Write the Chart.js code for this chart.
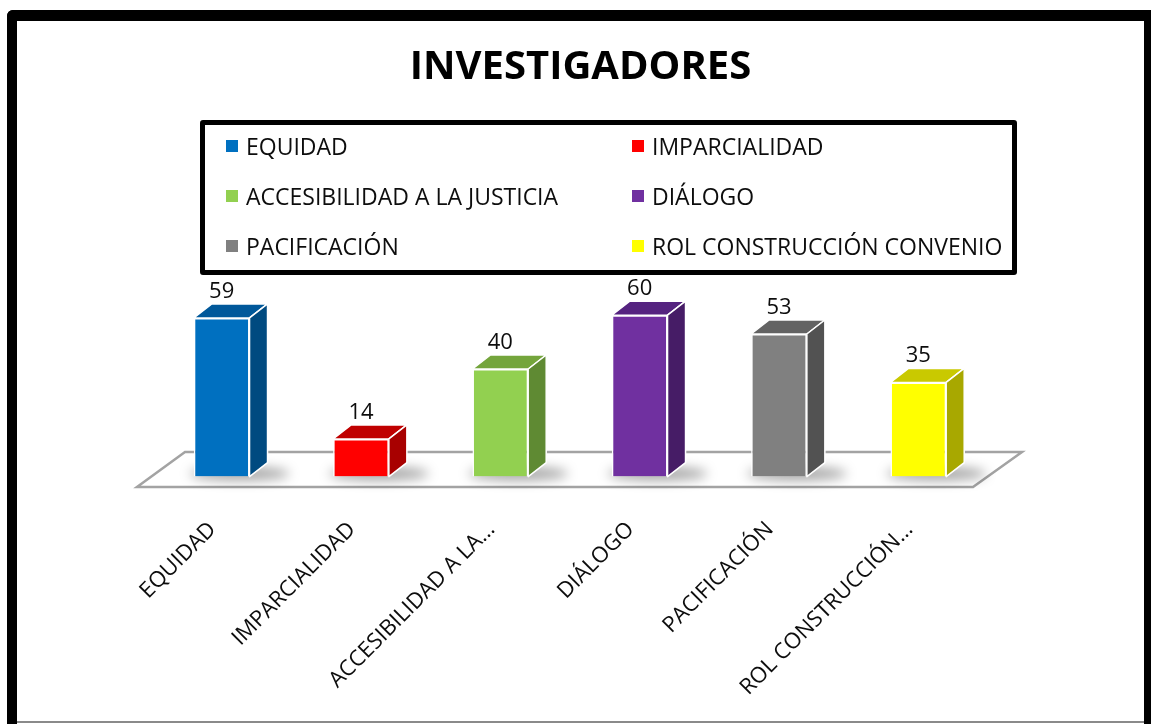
<!DOCTYPE html>
<html>
<head>
<meta charset="utf-8">
<script src="https://cdn.jsdelivr.net/npm/chart.js@4.4.1/dist/chart.umd.min.js"></script>
<style>
  body { margin: 0; background: #fff; font-family: "Open Sans", sans-serif; }
  #frame { position: absolute; left: 7px; top: 10px; width: 1144px; height: 720px; box-sizing: border-box;
           border: solid #000; border-width: 11px 7px 0 10px; border-top-left-radius: 6px; }
  #bottomline { position: absolute; left: 17px; top: 721px; width: 1127px; height: 2px; background: #8a8a8a; }
  #chart { position: absolute; left: 0; top: 0; }
  #legendbox { position: absolute; left: 200px; top: 120px; width: 817px; height: 155px; box-sizing: border-box;
               border: 5px solid #000; border-radius: 3px; }
  .item { position: absolute; height: 30px; display: flex; align-items: center; font-size: 23px; color: #0d0d0d; white-space: nowrap; }
  .item i { display: inline-block; width: 12px; height: 12px; margin-right: 8px; }
</style>
</head>
<body>
<div id="frame"></div>
<div id="bottomline"></div>
<canvas id="chart" width="1151" height="724"></canvas>
<div id="legendbox"></div>

<script>
// data
var categories = ['EQUIDAD', 'IMPARCIALIDAD', 'ACCESIBILIDAD A LA JUSTICIA', 'DIÁLOGO', 'PACIFICACIÓN', 'ROL CONSTRUCCIÓN CONVENIO'];
var values = [59, 14, 40, 60, 53, 35];
var frontColors = ['#0070C0', '#FF0000', '#92D050', '#7030A0', '#808080', '#FFFF00'];
var topColors = ['#00589A', '#C00000', '#74A53C', '#552380', '#636363', '#C9C900'];
var sideColors = ['#004A80', '#A80000', '#5F8A33', '#461C66', '#525252', '#A8A800'];

// layout
var zeroY = 476.6, pxPerUnit = 2.69, yMax = 70;
var areaTop = zeroY - yMax * pxPerUnit;
var dx = 18, dy = -14;

// legend (two columns, three rows)
var legendCols = [226, 632], legendRows = [146, 196, 246];
categories.forEach(function (c, i) {
    var d = document.createElement('div');
    d.className = 'item';
    d.style.left = legendCols[i % 2] + 'px';
    d.style.top = (legendRows[Math.floor(i / 2)] - 15) + 'px';
    d.innerHTML = '<i style="background:' + frontColors[i] + '"></i>' + c;
    document.body.appendChild(d);
});

// Excel-style shortening of long axis labels
function shortLabel(s) {
    if (s.length <= 20) return s;
    var out = '';
    var words = s.split(' ');
    for (var k = 0; k < words.length; k++) {
        var t = out ? out + ' ' + words[k] : words[k];
        if (t.length > 18) break;
        out = t;
    }
    return out + '…';
}

var bar3d = {
    id: 'bar3d',
    beforeDatasetsDraw: function (chart) {
        var ctx = chart.ctx, a = chart.chartArea, b = a.bottom;
        ctx.save();
        // floor
        ctx.beginPath();
        ctx.moveTo(a.left - 15, b + 10.5);
        ctx.lineTo(a.right - 15, b + 10.5);
        ctx.lineTo(a.right + 34, b - 24.5);
        ctx.lineTo(a.left + 33, b - 24.5);
        ctx.closePath();
        ctx.strokeStyle = '#a3a3a3';
        ctx.lineWidth = 2.5;
        ctx.stroke();
        // soft shadows under the bars
        ctx.filter = 'blur(6px)';
        ctx.fillStyle = 'rgba(0,0,0,0.35)';
        chart.getDatasetMeta(0).data.forEach(function (bar) {
            ctx.beginPath();
            ctx.ellipse(bar.x + 18, b - 3, bar.width / 2 + 22, 7, 0, 0, Math.PI * 2);
            ctx.fill();
        });
        ctx.restore();
    },
    afterDatasetsDraw: function (chart) {
        var ctx = chart.ctx;
        ctx.save();
        ctx.strokeStyle = '#ffffff';
        ctx.lineWidth = 1.5;
        ctx.lineJoin = 'round';
        chart.getDatasetMeta(0).data.forEach(function (bar, i) {
            var l = bar.x - bar.width / 2, r = bar.x + bar.width / 2, t = bar.y, b = bar.base;
            // top face
            ctx.beginPath();
            ctx.moveTo(l, t); ctx.lineTo(r, t); ctx.lineTo(r + dx, t + dy); ctx.lineTo(l + dx, t + dy); ctx.closePath();
            ctx.fillStyle = topColors[i]; ctx.fill(); ctx.stroke();
            // side face
            ctx.beginPath();
            ctx.moveTo(r, t); ctx.lineTo(r + dx, t + dy); ctx.lineTo(r + dx, b + dy); ctx.lineTo(r, b); ctx.closePath();
            ctx.fillStyle = sideColors[i]; ctx.fill(); ctx.stroke();
            // value label
            ctx.fillStyle = '#0d0d0d';
            ctx.font = '22px "Open Sans"';
            ctx.textAlign = 'center';
            ctx.textBaseline = 'alphabetic';
            ctx.fillText(values[i], bar.x, t + dy - 6);
        });
        ctx.restore();
    }
};

// hidden value axes that only reserve space on each side
function sideAxis(pos, w) {
    return {
        position: pos, min: 0, max: yMax,
        ticks: { display: false }, grid: { display: false }, border: { display: false },
        afterFit: function (s) { s.width = w; }
    };
}

new Chart(document.getElementById('chart'), {
    type: 'bar',
    data: {
        labels: categories,
        datasets: [{
            data: values,
            backgroundColor: frontColors,
            borderColor: '#ffffff',
            borderWidth: 1.5,
            barPercentage: 0.4,
            categoryPercentage: 1,
            yAxisID: 'y'
        }]
    },
    options: {
        responsive: false,
        animation: false,
        layout: { padding: { left: 10, right: 0, top: 0, bottom: 0 } },
        plugins: {
            legend: { display: false },
            tooltip: { enabled: false },
            title: {
                display: true,
                text: 'INVESTIGADORES',
                color: '#000',
                font: { family: 'Open Sans', size: 40, weight: 'bold', lineHeight: 1.2 },
                padding: { top: 44, bottom: areaTop - 44 - 40 * 1.2 }
            }
        },
        scales: {
            y: sideAxis('left', 142),
            yr: sideAxis('right', 163),
            x: {
                grid: { display: false, drawTicks: false },
                border: { display: false },
                afterFit: function (s) { s.height = 724 - zeroY; },
                ticks: {
                    autoSkip: false,
                    maxRotation: 45,
                    minRotation: 45,
                    padding: 40,
                    labelOffset: -9,
                    color: '#0d0d0d',
                    font: { family: 'Open Sans', size: 22 },
                    callback: function (v, i) { return shortLabel(categories[i]); }
                }
            }
        }
    },
    plugins: [bar3d]
});
</script>
</body>
</html>
